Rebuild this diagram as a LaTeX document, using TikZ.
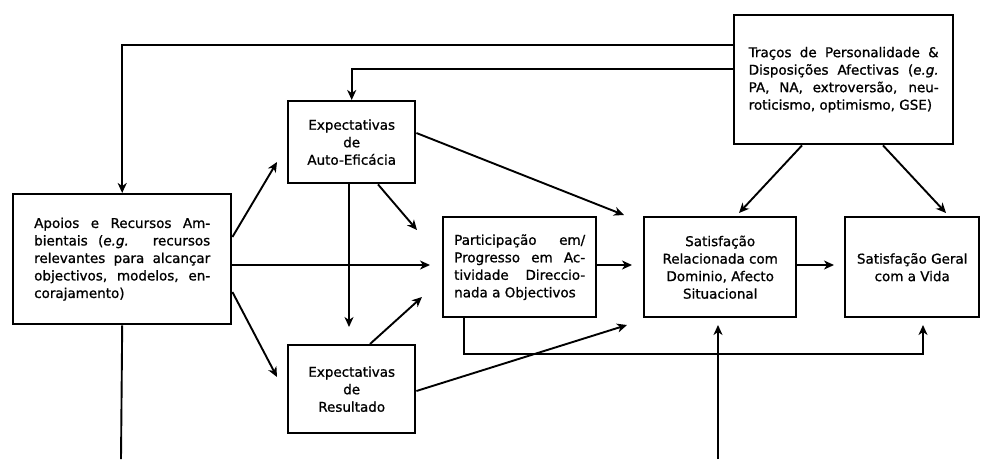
\documentclass[tikz,border=0pt]{standalone}
\usepackage{fontspec}
\setmainfont{DejaVu Sans}[FakeBold=1]
\usetikzlibrary{arrows.meta}
\begin{document}
\begin{tikzpicture}[x=1pt,y=-1pt,
  box/.style={draw, line width=2.4pt, inner sep=0pt, anchor=north west,
    font=\fontsize{13.5}{17.5}\selectfont},
  jbox/.style={box, align=justify},
  cbox/.style={box, align=center},
  arr/.style={line width=1.9pt, -{Stealth[length=10pt,width=9pt,inset=3pt]}},
  ln/.style={line width=1.9pt}]
\useasboundingbox (0,0) rectangle (987,459);
\hyphenpenalty=10000
\node[jbox, minimum width=218pt, minimum height=130pt, text width=176pt] (apoios) at (12,193)
  {\noindent Apoios e Recursos Am-\linebreak bientais (\textit{e.g.} recursos\linebreak relevantes para alcançar\linebreak objectivos, modelos, en-\linebreak corajamento)};
\node[cbox, minimum width=127pt, minimum height=82pt] (auto) at (287,100)
  {Expectativas\\de\\Auto-Eficácia};
\node[cbox, minimum width=127pt, minimum height=88pt] (res) at (287,344)
  {Expectativas\\de\\Resultado};
\node[jbox, minimum width=153pt, minimum height=100pt, text width=131pt] (part) at (442,216)
  {\noindent Participação em/\linebreak Progresso em Ac-\linebreak tividade Direccio-\linebreak nada a Objectivos};
\node[cbox, minimum width=152pt, minimum height=100pt] (satrel) at (643,216)
  {Satisfação\\Relacionada com\\Dominio, Afecto\\Situacional};
\node[cbox, minimum width=134pt, minimum height=100pt] (satger) at (844,216)
  {Satisfação Geral\\com a Vida};
\node[jbox, minimum width=219pt, minimum height=129pt, text width=190pt] (trac) at (733,14)
  {\noindent Traços de Personalidade \&\linebreak Disposições Afectivas (\textit{e.g.}\linebreak PA, NA, extroversão, neu-\linebreak roticismo, optimismo, GSE)};
% tip coordinates
\coordinate (tA) at (277,162);
\coordinate (tB) at (430,265);
\coordinate (tC) at (277,377);
\coordinate (tD) at (349,327);
\coordinate (tE) at (417,230);
\coordinate (tF) at (624,215);
\coordinate (tG) at (422,297);
\coordinate (tH) at (627,325);
\coordinate (tI) at (632,265);
\coordinate (tJ) at (834,265);
\coordinate (tK) at (739,213);
\coordinate (tL) at (946,213);
\coordinate (tM) at (718,325);
\coordinate (tN) at (923,325);
\coordinate (bot1) at (121,459);
\coordinate (bot2) at (718,459);
% connectors
\draw[arr] (trac.west |- 0,45) -| (apoios.north);
\draw[arr] (trac.west |- 0,69) -| (auto.north);
\draw[arr] (trac.south -| 802,0) -- (tK);
\draw[arr] (trac.south -| 883,0) -- (tL);
\draw[arr] (apoios.east |- 0,237) -- (tA);
\draw[arr] (apoios.east |- tB) -- (tB);
\draw[arr] (apoios.east |- 0,292) -- (tC);
\draw[arr] (auto.south -| tD) -- (tD);
\draw[arr] (auto.south -| 378,0) -- (tE);
\draw[arr] (auto.east |- 0,133) -- (tF);
\draw[arr] (res.north -| 370,0) -- (tG);
\draw[arr] (res.east |- 0,391) -- (tH);
\draw[arr] (part.east |- tI) -- (tI);
\draw[arr] (satrel.east |- tJ) -- (tJ);
\draw[arr] (part.south -| 464,0) |- (0,354 -| tN) -- (tN);
\draw[arr] (bot2) -- (tM);
\draw[ln] (apoios.south) -- (bot1);
\end{tikzpicture}
\end{document}
